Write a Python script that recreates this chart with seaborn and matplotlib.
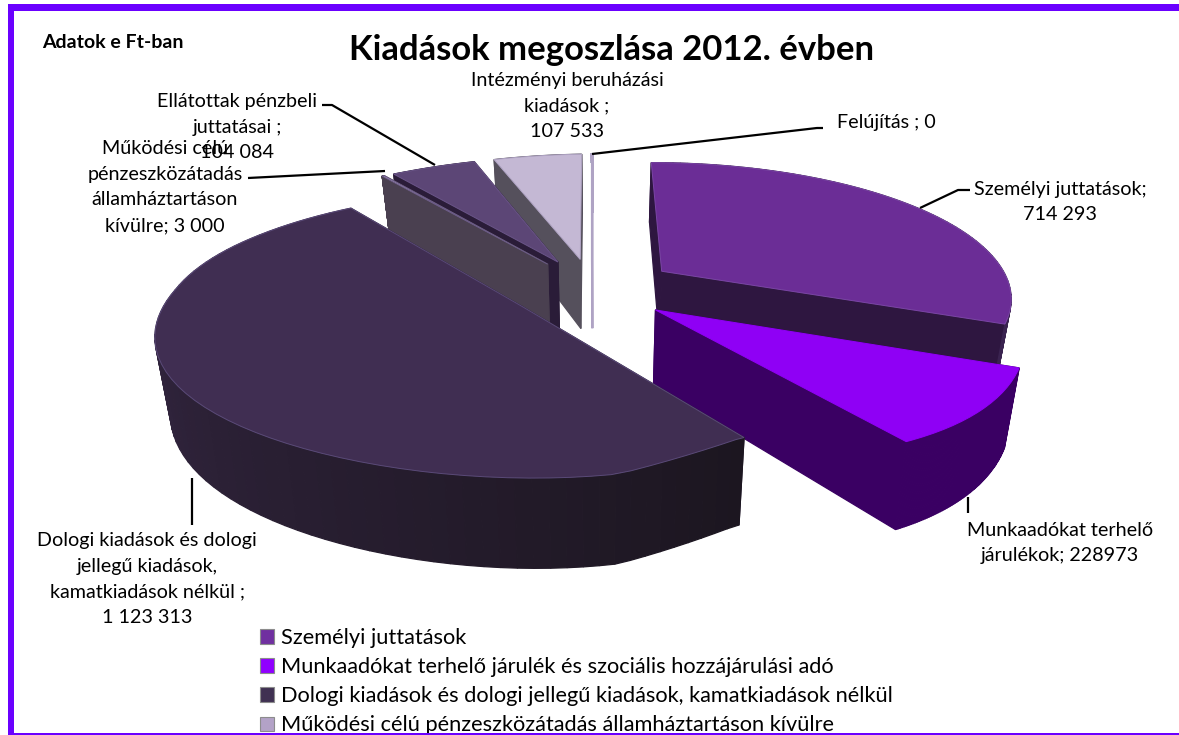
import numpy as np
import seaborn as sns
import matplotlib.pyplot as plt
from matplotlib.patches import Patch
from matplotlib.path import Path
from matplotlib.transforms import Affine2D, Transform

# Data
categories = ['Személyi juttatások', 'Munkaadókat terhelő járulék és szociális hozzájárulási adó',
              'Dologi kiadások és dologi jellegű kiadások, kamatkiadások nélkül',
              'Működési célú pénzeszközátadás államháztartáson kívülre',
              'Ellátottak pénzbeli juttatásai', 'Intézményi beruházási kiadások', 'Felújítás']
values = [714293, 228973, 1123313, 3000, 104084, 107533, 0]
explode = [0.245, 0.233, 0.233, 0.233, 0.233, 0.233, 0.233]

# Colours per slice
top_colors = ['#6B2D96', '#8F00F5', '#402E52', '#B3A2C7', '#5C4676', '#C4B8D4', '#AFA3C4']
edge_colors = ['#7A45A5', '#8F00F5', '#5A4A78', '#6A5A85', '#6A5588', '#B0A4C4', '#AFA3C4']
wall_colors = ['#2E1640', '#3A0063', '#2A1F36', '#4A4050', '#2A1C38', '#55505C', '#AFA3C4']
arc_left = ['#3A2350', '#3A0063', '#3E2D50', '#4A4050', '#2A1C38', '#55505C', '#AFA3C4']
arc_right = ['#2E1640', '#3A0063', '#1C1620', '#4A4050', '#2A1C38', '#55505C', '#AFA3C4']
legend_colors = ['#7030A0', '#9000FF', '#403152', '#B3A2C7']
frame_color = '#6A00FF'

# Disc to pixel projection
CX, CY, RX, RY, K = 592, 289, 350, 134, 0.18
DEPTH, LEAN, NADIR_X = 72, 0.035, 600


def project(x, y, z=0.0):
    x = np.asarray(x, dtype=float)
    y = np.asarray(y, dtype=float)
    s = 1 / (1 + K * y)
    front = np.minimum(y, 0) ** 4
    back_left = np.clip(-x / 0.6, 0, 1) * np.clip(y / 0.4, 0, 1)
    # small corrections, the original's perspective is not a clean one
    px = CX + RX * (x + 0.04 * front) * s - 7 * back_left
    py = CY - RY * y * s + z * DEPTH * s - 12 * np.clip(x / 0.3, 0, 1) * front + 3 * back_left
    return px + z * LEAN * (NADIR_X - px), py


class Tilt(Transform):
    input_dims = 2
    output_dims = 2

    def transform_non_affine(self, xy):
        xy = np.asarray(xy)
        return np.column_stack(project(xy[:, 0], xy[:, 1]))

    def transform_path_non_affine(self, path):
        # flatten the curves first so the top face follows the walls
        polys = path.to_polygons(Affine2D().scale(500), closed_only=True)
        if not len(polys):
            return path
        return Path(self.transform_non_affine(polys[0] / 500))


def wall(ax, x0, y0, x1, y1, color, zorder, lw=1.0):
    top_x, top_y = project([x0, x1], [y0, y1])
    bot_x, bot_y = project([x1, x0], [y1, y0], 1.0)
    ax.fill(np.r_[top_x, bot_x], np.r_[top_y, bot_y], color=color, lw=lw, zorder=zorder)


def draw_sides(ax, wedge, i, zorder):
    cx, cy = wedge.center
    t = np.radians(np.linspace(wedge.theta1, wedge.theta2, 80))
    xs, ys = cx + wedge.r * np.cos(t), cy + wedge.r * np.sin(t)
    shades = sns.blend_palette([arc_left[i], arc_right[i]], 79)
    quads = []
    for j in range(79):
        quads.append(((ys[j] + ys[j + 1]) / 2, xs[j], ys[j], xs[j + 1], ys[j + 1], shades[j]))
    for k in (0, -1):
        quads.append(((cy + ys[k]) / 2, cx, cy, xs[k], ys[k], wall_colors[i]))
    # back to front
    quads.sort(key=lambda q: -q[0])
    for n, q in enumerate(quads):
        wall(ax, q[1], q[2], q[3], q[4], q[5], zorder + n * 0.005,
             lw=1.5 if values[i] == 0 else 0.9)


sns.set_theme(style='white')
plt.rcParams['font.family'] = ['Lato', 'DejaVu Sans']

fig = plt.figure(figsize=(11.79, 7.35), dpi=100)
ax = fig.add_axes([0, 0, 1, 1])

wedges, _ = ax.pie(values, explode=explode, startangle=90, counterclock=False,
                   colors=sns.color_palette(top_colors))

tilt = Tilt()
draw_order = [5, 6, 4, 3, 0, 1, 2]
for pos, i in enumerate(draw_order):
    w = wedges[i]
    draw_sides(ax, w, i, 10 * pos + 1)
    w.set_transform(tilt + ax.transData)
    w.set_edgecolor(edge_colors[i])
    w.set_linewidth(0.7)
    w.set_zorder(10 * pos + 5)

ax.set_aspect('auto')
ax.set_xlim(0, 1179)
ax.set_ylim(735, 0)
ax.axis('off')

# Frame
ax.fill([8, 14, 14, 8], [4, 4, 735, 735], color=frame_color, lw=0, zorder=90)
ax.fill([8, 1179, 1179, 8], [4, 4, 10.5, 10.5], color=frame_color, lw=0, zorder=90)
ax.fill([8, 1179, 1179, 8], [733, 733, 735, 735], color=frame_color, lw=0, zorder=90)

# Leader lines
leaders = [([322, 332, 435], [105, 105, 165]),
           ([248, 385], [178, 171]),
           ([592, 817, 823], [154, 128, 128]),
           ([920, 958, 970], [208, 190, 190]),
           ([192, 192], [478, 525]),
           ([968, 968], [497, 513])]
for lx, ly in leaders:
    ax.plot(lx, ly, color='black', lw=1.6, zorder=100, solid_capstyle='butt')

# Texts
ax.text(612, 50, 'Kiadások megoszlása 2012. évben', ha='center', va='center',
        fontsize=24.9, fontweight='bold', color='black', zorder=110)
ax.text(42, 42, 'Adatok e Ft-ban', ha='left', va='center', fontsize=14,
        fontweight='bold', color='black', zorder=110)

labels = [(567, 106, 'Intézményi beruházási\nkiadások ;\n107 533'),
          (237, 127, 'Ellátottak pénzbeli\njuttatásai ;\n104 084'),
          (165, 187, 'Működési célú\npénzeszközátadás\nállamháztartáson\nkívülre; 3 000'),
          (886, 122, 'Felújítás ; 0'),
          (1060, 202, 'Személyi juttatások;\n714 293'),
          (1060, 543, 'Munkaadókat terhelő\njárulékok; 228973'),
          (147, 579, 'Dologi kiadások és dologi\njellegű kiadások,\nkamatkiadások nélkül ;\n1 123 313')]
for lx, ly, txt in labels:
    ax.text(lx, ly, txt, ha='center', va='center', fontsize=14.2, linespacing=1.63,
            color='black', zorder=110)

# Legend, cut off by the frame as in the picture
handles = [Patch(facecolor=c, edgecolor='#8C8C8C', lw=0.8) for c in legend_colors]
ax.legend(handles, categories[:4], loc='upper left', bbox_to_anchor=(260 / 1179, 1 - 628 / 735),
          frameon=False, fontsize=15.7, labelcolor='black', handlelength=0.65, handleheight=0.65,
          handletextpad=0.3, labelspacing=0.42, borderpad=0, borderaxespad=0)

fig.savefig('out.png', dpi=100)
